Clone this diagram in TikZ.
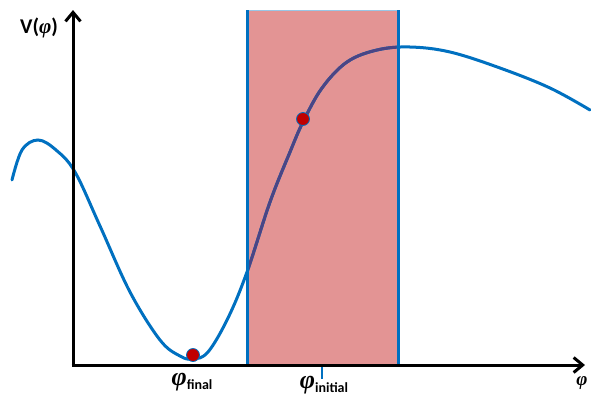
\documentclass[tikz,border=0pt]{standalone}
\usepackage{fontspec}
\setmainfont{Carlito}
\newfontfamily\phifont{Liberation Serif}
\usetikzlibrary{arrows.meta}
\definecolor{curveblue}{HTML}{0070C0}
\definecolor{boxpink}{HTML}{E39494}
\definecolor{darkcurve}{HTML}{4A4585}
\definecolor{ballred}{HTML}{C00000}
\newcommand{\phisized}[1]{{\fontsize{#1}{#1}\phifont\bfseries\itshape φ}}
\newcommand{\phisub}[1]{\raisebox{-4pt}{\fontsize{14}{15}\bfseries\selectfont #1}}
\tikzset{
  axis/.style={line width=3pt, -{Straight Barb[length=9pt,width=15pt,line width=3pt]}},
  pot/.style={line width=3pt, line cap=round},
  ball/.style={fill=ballred, draw=curveblue, line width=0.8pt, circle, minimum size=13pt, inner sep=0pt},
  lbl/.style={inner sep=0pt}
}
\begin{document}
\begin{tikzpicture}[x=1pt,y=-1pt]
\useasboundingbox (0,0) rectangle (591,397);
% shaded region
\fill[boxpink] (247,10) rectangle (398,365);
\draw[curveblue!40, line width=1pt] (247,10) -- (398,10);
% potential curve
\def\potpath{plot[smooth, tension=0.6] coordinates {(12,180) (22,150) (38,140) (56,150) (75,172) (100,226) (130,292) (160,340) (180,356) (193,359) (208,352) (228,318) (247,272) (270,202) (290,152) (303,122) (322,88) (347,62) (377,50) (410,47) (450,52) (500,68) (550,88) (590,110)}}
\draw[pot, curveblue] \potpath;
\begin{scope}
\clip (248.5,0) rectangle (396.5,397);
\draw[pot, darkcurve] \potpath;
\end{scope}
\draw[curveblue, line width=3pt] (247,10) -- (247,365);
\draw[curveblue, line width=3pt] (398,10) -- (398,365);
% axes
\coordinate (O) at (73,365);
\coordinate (Ytop) at (73,10);
\coordinate (Xend) at (585,365);
\draw[axis] (O) -- (Ytop);
\draw[axis] (71.5,365) -- (Xend);
% tick
\coordinate (T1) at (322,367);
\coordinate (T2) at (322,379);
\draw[curveblue, line width=1.5pt] (T1) -- (T2);
% balls
\node[ball] (b1) at (193,355) {};
\node[ball] (b2) at (303,119) {};
% labels
\node[lbl, font=\fontsize{21}{24}\bfseries\selectfont] (V) at (39,28) {V(\phisized{21})};
\node[lbl] (pf) at (192,382) {\phisized{26}\phisub{final}};
\node[lbl] (pi) at (324,385) {\phisized{26}\phisub{initial}};
\node[lbl] (px) at (582,383) {\phisized{19}};
\end{tikzpicture}
\end{document}
